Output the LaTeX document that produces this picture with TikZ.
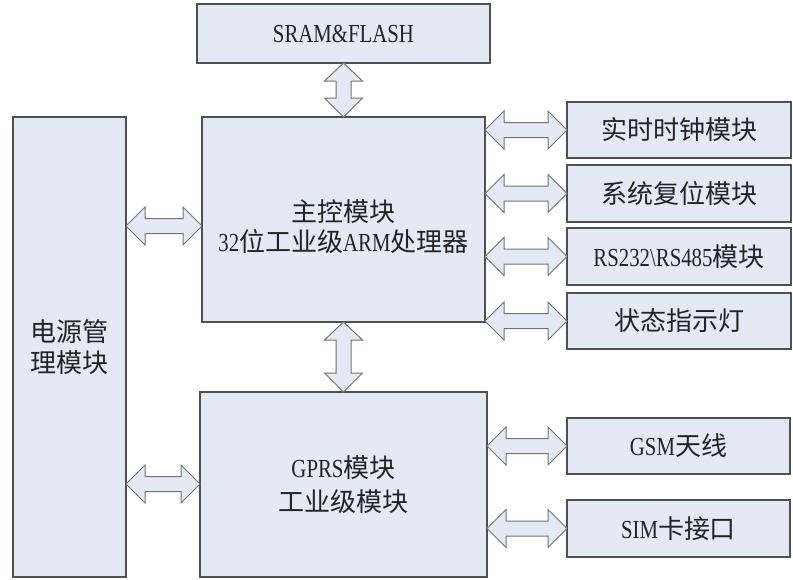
\documentclass[tikz,border=0pt]{standalone}
\usepackage{fontspec}
\setmainfont{Liberation Serif}[FakeStretch=0.8]
\newfontfamily\cjk{Noto Sans CJK SC}
\usetikzlibrary{calc}
\definecolor{boxfill}{RGB}{228,234,245}
\definecolor{boxline}{RGB}{80,80,80}
\definecolor{txt}{RGB}{35,35,35}
\tikzset{
 blk/.style={draw=boxline,fill=boxfill,line width=1.4pt,inner sep=0pt,outer sep=0pt,
   anchor=north west,align=center,text=txt,font=\fontsize{26}{31}\selectfont},
 lbl/.style={align=center,text=txt,inner sep=0pt,font=\fontsize{26}{30}\selectfont},
 arr/.style={draw=boxline!80,fill=boxfill,line width=1pt,line join=miter}
}
\newcommand\hdarrow[3]{%
 \draw[arr] let \p1=(#1.east |- #3), \p2=(#2.west |- #3) in
   (\x1,\y1) -- (\x1+19pt,\y1+19pt) -- (\x1+19pt,\y1+7.5pt) -- (\x2-19pt,\y1+7.5pt)
   -- (\x2-19pt,\y1+19pt) -- (\x2,\y1) -- (\x2-19pt,\y1-19pt) -- (\x2-19pt,\y1-7.5pt)
   -- (\x1+19pt,\y1-7.5pt) -- (\x1+19pt,\y1-19pt) -- cycle;}
\newcommand\vdarrow[2]{%
 \draw[arr] let \p1=(#1.south), \p2=(#2.north) in
   (\x1,\y1) -- (\x1+19pt,\y1-18pt) -- (\x1+7.5pt,\y1-18pt) -- (\x1+7.5pt,\y2+19pt)
   -- (\x1+19pt,\y2+19pt) -- (\x1,\y2) -- (\x1-19pt,\y2+19pt) -- (\x1-7.5pt,\y2+19pt)
   -- (\x1-7.5pt,\y1-18pt) -- (\x1-19pt,\y1-18pt) -- cycle;}
\begin{document}
\begin{tikzpicture}[x=1pt,y=-1pt]
\useasboundingbox (0,0) rectangle (793,579);
\node[blk,minimum width=293pt,minimum height=59pt] (sram) at (197,4) {SRAM\&FLASH};
\node[blk,minimum width=283pt,minimum height=205pt] (main) at (202,117) {};
\node[lbl] (maintxt) at (343.5,227) {{\cjk 主控模块}\\32{\cjk 位工业级}ARM{\cjk 处理器}};
\node[blk,minimum width=113pt,minimum height=460pt] (pw) at (13,117) {{\cjk 电源管}\\{\cjk 理模块}};
\node[blk,minimum width=287pt,minimum height=185pt,font=\fontsize{26}{34}\selectfont] (gprs) at (200,392) {GPRS{\cjk 模块}\\{\cjk 工业级模块}};
\node[blk,minimum width=224pt,minimum height=56pt] (rtc) at (567,102) {\cjk 实时时钟模块};
\node[blk,minimum width=224pt,minimum height=57pt] (rst) at (567,165) {\cjk 系统复位模块};
\node[blk,minimum width=224pt,minimum height=57pt] (rs) at (567,228) {RS232\textbackslash RS485{\cjk 模块}};
\node[blk,minimum width=224pt,minimum height=56pt] (led) at (567,293) {\cjk 状态指示灯};
\node[blk,minimum width=223pt,minimum height=56pt] (gsm) at (567,418) {GSM{\cjk 天线}};
\node[blk,minimum width=223pt,minimum height=57pt] (sim) at (567,500) {SIM{\cjk 卡接口}};
\coordinate (ya) at (0,226);
\coordinate (yb) at (0,484);
\vdarrow{sram}{main}
\vdarrow{main}{gprs}
\hdarrow{pw}{main}{ya}
\hdarrow{pw}{gprs}{yb}
\hdarrow{main}{rtc}{rtc.west}
\hdarrow{main}{rst}{rst.west}
\hdarrow{main}{rs}{rs.west}
\hdarrow{main}{led}{led.west}
\hdarrow{gprs}{gsm}{gsm.west}
\hdarrow{gprs}{sim}{sim.west}
\end{tikzpicture}
\end{document}
